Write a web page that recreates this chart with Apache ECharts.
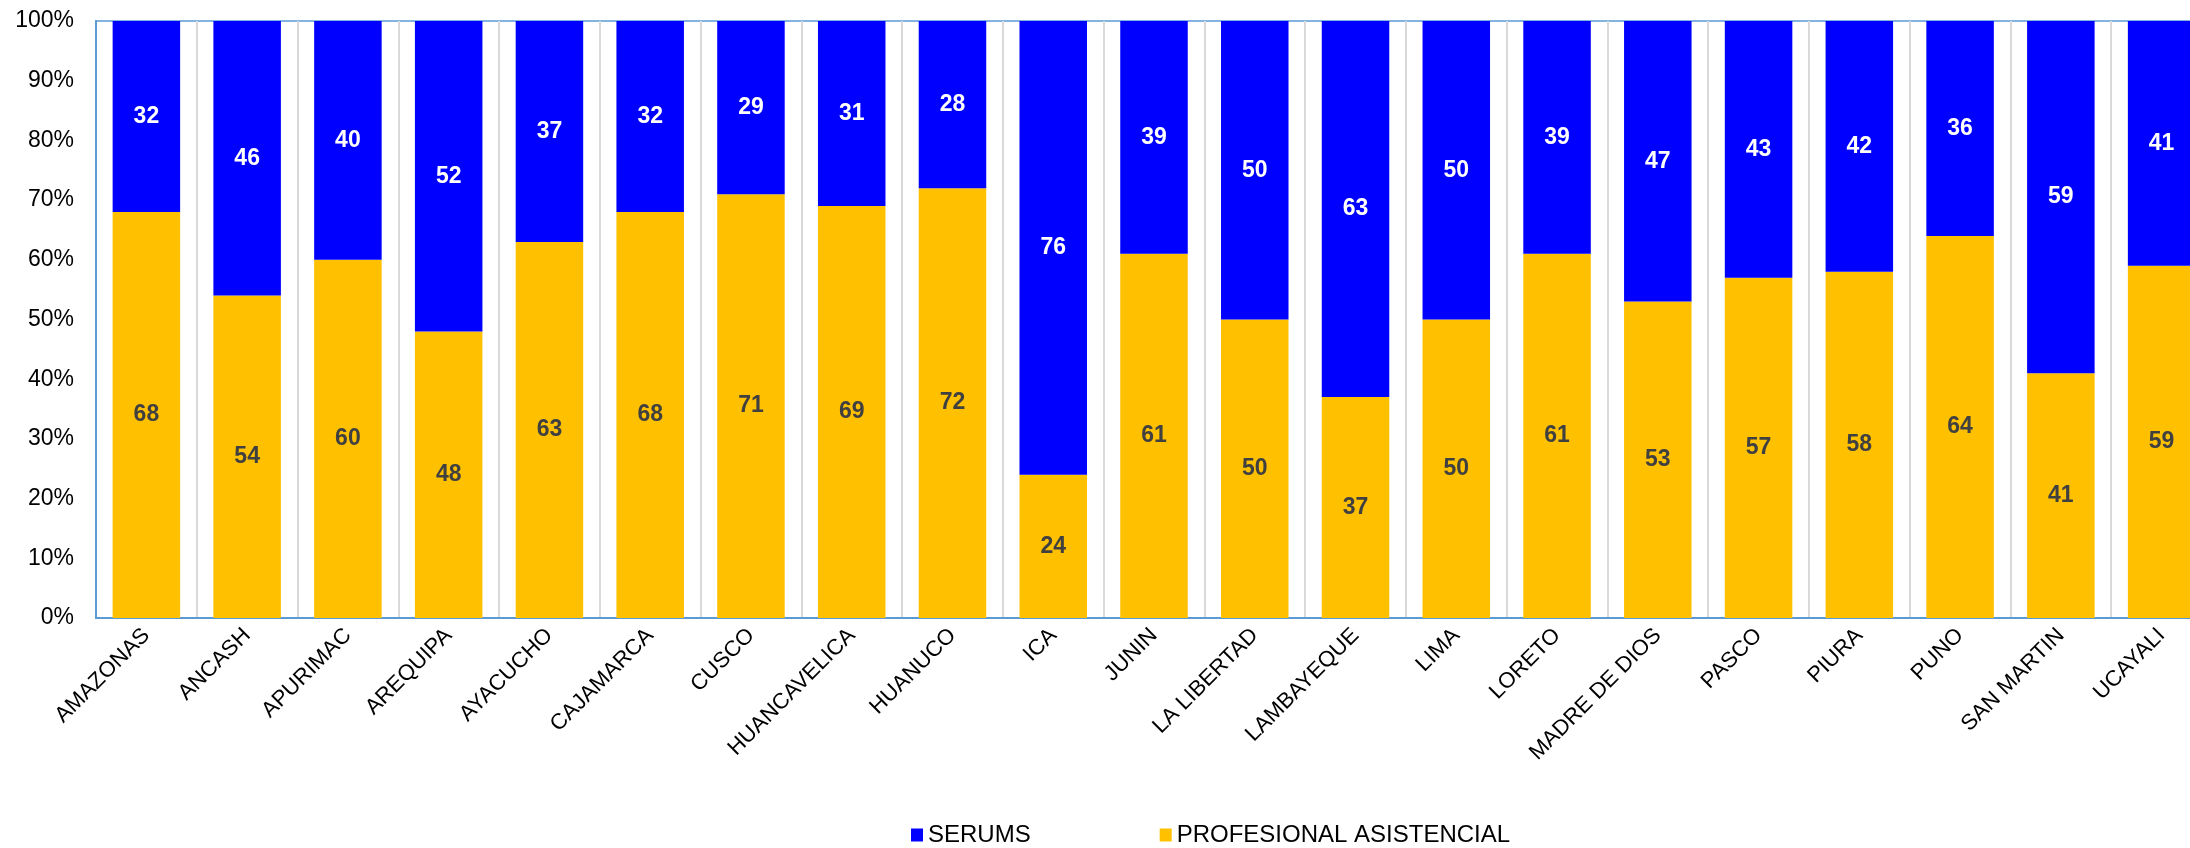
<!DOCTYPE html>
<html>
<head>
<meta charset="utf-8">
<script src="https://cdn.jsdelivr.net/npm/echarts@6/dist/echarts.min.js"></script>
<style>
html,body{margin:0;padding:0;background:#fff;}
#chart{width:2190px;height:848px;}
</style>
</head>
<body>
<div id="chart"></div>
<script>
const categories = ["AMAZONAS","ANCASH","APURIMAC","AREQUIPA","AYACUCHO","CAJAMARCA","CUSCO","HUANCAVELICA","HUANUCO","ICA","JUNIN","LA LIBERTAD","LAMBAYEQUE","LIMA","LORETO","MADRE DE DIOS","PASCO","PIURA","PUNO","SAN MARTIN","UCAYALI"];
const serums = [32,46,40,52,37,32,29,31,28,76,39,50,63,50,39,47,43,42,36,59,41];
const profesional = [68,54,60,48,63,68,71,69,72,24,61,50,37,50,61,53,57,58,64,41,59];
const yTicks = [0,10,20,30,40,50,60,70,80,90,100];

const chart = echarts.init(document.getElementById('chart'));
const font = "'Liberation Sans', Arial, sans-serif";
chart.setOption({
  animation: false,
  backgroundColor: '#ffffff',
  grid: {
    left: 96, top: 21, width: 2116, bottom: 230,
    outerBoundsMode: 'none', containLabel: false,
    show: true, borderColor: '#5B9BD5', borderWidth: 1.5, backgroundColor: 'transparent'
  },
  legend: {
    data: ['SERUMS', 'PROFESIONAL ASISTENCIAL'],
    left: 911, top: 823, padding: 0,
    itemWidth: 12, itemHeight: 13, itemGap: 129,
    icon: 'rect',
    textStyle: { fontFamily: font, fontSize: 24, color: '#000' }
  },
  xAxis: {
    type: 'category',
    data: categories,
    axisLine: { show: true, lineStyle: { color: '#5B9BD5', width: 2 } },
    axisTick: { show: false },
    splitLine: { show: true, lineStyle: { color: '#D9D9D9', width: 2 } },
    axisLabel: { rotate: 45, margin: 14, fontFamily: font, fontSize: 22, color: '#000', interval: 0 }
  },
  yAxis: {
    type: 'value',
    min: yTicks[0], max: yTicks[yTicks.length - 1], interval: 10,
    axisLine: { show: true, lineStyle: { color: '#5B9BD5', width: 2 } },
    axisTick: { show: false },
    splitLine: { show: false },
    axisLabel: { formatter: '{value}%', margin: 22, fontFamily: font, fontSize: 23, color: '#000' }
  },
  series: [
    {
      name: 'PROFESIONAL ASISTENCIAL',
      type: 'bar', stack: 'total',
      data: profesional,
      barWidth: '67%',
      itemStyle: { color: '#FFC000' },
      label: { show: true, position: 'inside', fontFamily: font, fontWeight: 'bold', fontSize: 23, color: '#404040' }
    },
    {
      name: 'SERUMS',
      type: 'bar', stack: 'total',
      data: serums,
      barWidth: '67%',
      itemStyle: { color: '#0000FF' },
      label: { show: true, position: 'inside', fontFamily: font, fontWeight: 'bold', fontSize: 23, color: '#ffffff' }
    }
  ]
});
</script>
</body>
</html>
